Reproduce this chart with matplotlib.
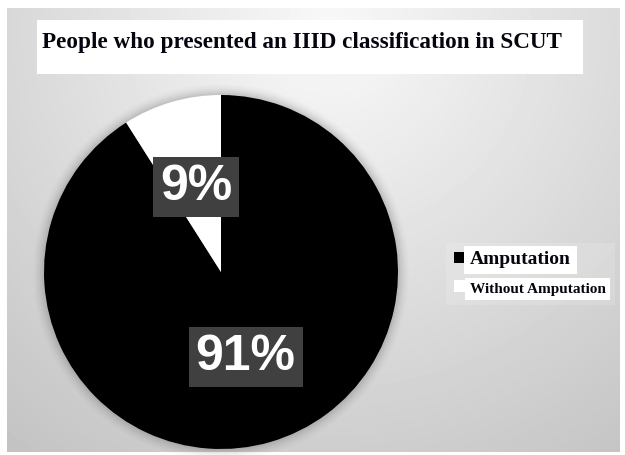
import numpy as np
import matplotlib
matplotlib.use("Agg")
import matplotlib.pyplot as plt
from matplotlib.patches import Rectangle, Circle

# data
labels = ["Amputation", "Without Amputation"]
shares = [91, 9]
wedge_colors = ["#000000", "#ffffff"]
title = "People who presented an IIID classification in SCUT"

W, H = 625, 455
serif = ["Liberation Serif", "DejaVu Serif"]

fig = plt.figure(figsize=(W / 100, H / 100), dpi=100)
fig.patch.set_facecolor("white")

# gray radial-ish background panel
bg = fig.add_axes([7 / W, (H - 452) / H, 613 / W, 444 / H])
yy, xx = np.mgrid[8:452, 7:620]
dist = np.hypot(xx - 330, yy - 30)
shade = np.clip(0.975 - 0.0004 * dist, 0, 1)
bg.imshow(shade, cmap="gray", vmin=0, vmax=1, aspect="auto", interpolation="bilinear")
bg.set_axis_off()

# title in a white box
fig.patches.append(Rectangle((37 / W, 1 - 74 / H), 546 / W, 54 / H,
                             transform=fig.transFigure, facecolor="white",
                             edgecolor="none", zorder=1))
fig.text(42 / W, 1 - 48 / H, title, family=serif, weight="bold",
         fontsize=16.7, va="baseline", ha="left", color="#050510", zorder=2)

# pie
cx, cy, R = 221, 272, 177
half = R * 1.1
ax = fig.add_axes([(cx - half) / W, (H - cy - half) / H, 2 * half / W, 2 * half / H])
ax.patch.set_alpha(0)

# soft shadow round the pie
for i, a in enumerate([0.05, 0.04, 0.03, 0.02, 0.015]):
    ax.add_patch(Circle((0, 0), 1.0 + 0.012 * (i + 1), color="black", alpha=a,
                        lw=0, zorder=0))

wedges, _, pcts = ax.pie(shares, colors=wedge_colors, startangle=90,
                         counterclock=False, autopct="%d%%", pctdistance=0.5,
                         wedgeprops=dict(linewidth=0))
for w in wedges:
    w.set_zorder(2)
for t in pcts:
    t.set_family("Liberation Sans")
    t.set_weight("bold")
    t.set_fontsize(36)
    t.set_color("white")
    t.set_zorder(3)
    t.set_bbox(dict(boxstyle="square,pad=0.14", facecolor="#404040", edgecolor="none"))
ax.set_xlim(-1.1, 1.1)
ax.set_ylim(-1.1, 1.1)
ax.set_aspect("equal")
ax.set_axis_off()

# legend
leg = fig.legend(wedges, labels, loc="upper left",
                 bbox_to_anchor=(436 / W, 1 - 233 / H),
                 prop=dict(family=serif, weight="bold", size=14),
                 handlelength=0.55, handleheight=0.55, handletextpad=0.25,
                 labelspacing=0.6, borderpad=0.45, fancybox=False)
leg.get_frame().set_facecolor("white")
leg.get_frame().set_alpha(0.15)
leg.get_frame().set_edgecolor("none")
for txt, size in zip(leg.get_texts(), [14, 11]):
    txt.set_fontsize(size)
    txt.set_color("#050510")
    txt.set_bbox(dict(boxstyle="square,pad=0.3", facecolor="white", edgecolor="none"))
for h in leg.legend_handles:
    h.set_edgecolor("none")

fig.savefig("out.png", dpi=100)
